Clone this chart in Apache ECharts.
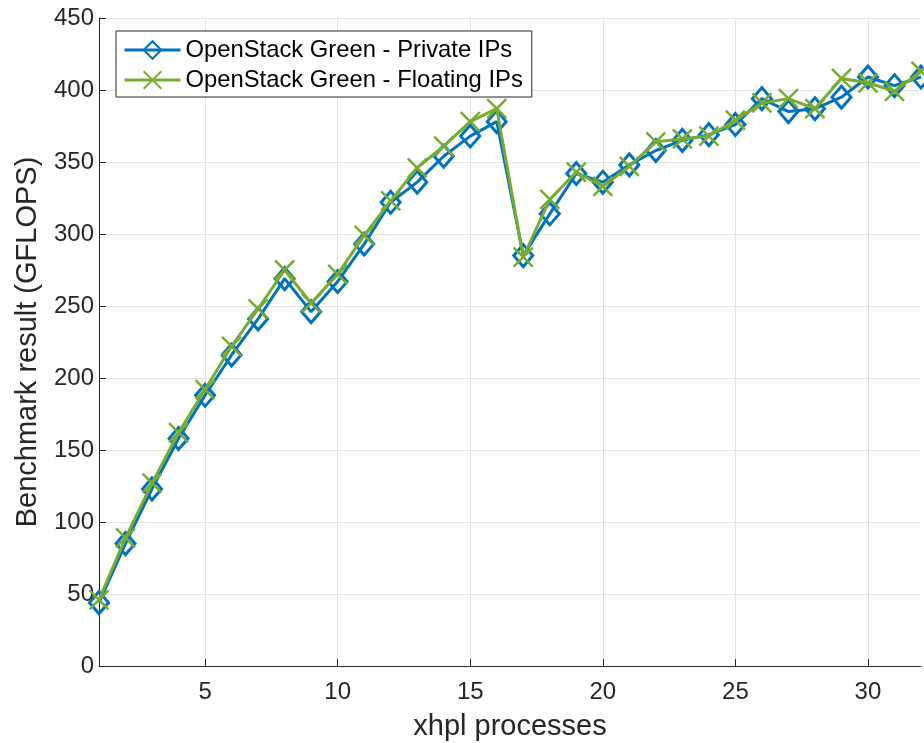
<!DOCTYPE html>
<html>
<head>
<meta charset="utf-8">
<script src="https://cdn.jsdelivr.net/npm/echarts@6/dist/echarts.min.js"></script>
<style>
  html, body { margin: 0; padding: 0; background: #fff; }
  #chart { width: 924px; height: 743px; }
</style>
</head>
<body>
<div id="chart"></div>
<script>
// xhpl process counts 1..32
const processes = [1,2,3,4,5,6,7,8,9,10,11,12,13,14,15,16,17,18,19,20,21,22,23,24,25,26,27,28,29,30,31,32];

// Benchmark results (GFLOPS)
const privateIPs = [44,85,123,158,188,216,241,269,246,267,293,322,336,354,368,378,285,314,342,336,348,358,365,369,376,394,385,387,395,409,403,409];
const floatingIPs = [46,89,127,162,192,222,248,275,252,272,299,323,346,361,378,387,284,324,343,333,347,364,366,368,379,391,394,387,408,405,399,413];

const xTickValues = [5,10,15,20,25,30];
const seriesNames = ['OpenStack Green - Private IPs', 'OpenStack Green - Floating IPs'];

const FONT = 'Liberation Sans, Arial, Helvetica, sans-serif';
const AXIS_COLOR = '#262626';
const GRID_COLOR = '#e3e3e3';
const BLUE = '#0072BD';
const GREEN = '#77AC30';
const X_SYMBOL = 'path://M0,0L10,10M10,0L0,10';

const toPairs = vals => processes.map((p, i) => [p, vals[i]]);

const chart = echarts.init(document.getElementById('chart'), null, { renderer: 'canvas' });
chart.setOption({
  animation: false,
  backgroundColor: '#fff',
  textStyle: { fontFamily: FONT },
  grid: { left: 99, right: 3, top: 18, bottom: 77, containLabel: false, outerBoundsMode: 'none' },
  legend: {
    left: 116, top: 31,
    orient: 'vertical',
    backgroundColor: '#fff',
    borderColor: AXIS_COLOR,
    borderWidth: 1,
    padding: [7, 9, 5, 7],
    itemGap: 6,
    itemWidth: 56,
    itemHeight: 22,
    lineStyle: { width: 3 },
    textStyle: { fontFamily: FONT, fontSize: 23.8, lineHeight: 24, color: '#000' },
    data: seriesNames
  },
  xAxis: {
    type: 'value',
    min: 1, max: 32,
    name: 'xhpl processes',
    nameLocation: 'middle',
    nameGap: 46,
    nameTextStyle: { fontFamily: FONT, fontSize: 29, color: AXIS_COLOR },
    axisLine: { show: true, onZero: false, lineStyle: { color: AXIS_COLOR, width: 1 } },
    axisTick: { show: true, inside: true, length: 7, customValues: xTickValues, lineStyle: { color: AXIS_COLOR } },
    axisLabel: { customValues: xTickValues, fontFamily: FONT, fontSize: 24, color: AXIS_COLOR, margin: 14 },
    splitLine: { show: true, lineStyle: { color: GRID_COLOR, width: 1 } }
  },
  yAxis: {
    type: 'value',
    min: 0, max: 450, interval: 50,
    name: 'Benchmark result (GFLOPS)',
    nameLocation: 'middle',
    nameGap: 57,
    nameTextStyle: { fontFamily: FONT, fontSize: 29, color: AXIS_COLOR },
    axisLine: { show: true, lineStyle: { color: AXIS_COLOR, width: 1 } },
    axisTick: { show: true, inside: true, length: 7, lineStyle: { color: AXIS_COLOR } },
    axisLabel: { fontFamily: FONT, fontSize: 24, color: AXIS_COLOR, margin: 5 },
    splitLine: { show: true, lineStyle: { color: GRID_COLOR, width: 1 } }
  },
  series: [
    {
      name: seriesNames[0],
      type: 'line',
      data: toPairs(privateIPs),
      symbol: 'diamond',
      symbolSize: [19, 22],
      showAllSymbol: true,
      lineStyle: { color: BLUE, width: 3 },
      itemStyle: { color: 'rgba(255,255,255,0)', borderColor: BLUE, borderWidth: 3 },
      z: 2
    },
    {
      name: seriesNames[1],
      type: 'line',
      data: toPairs(floatingIPs),
      symbol: X_SYMBOL,
      symbolSize: 19,
      showAllSymbol: true,
      lineStyle: { color: GREEN, width: 3 },
      itemStyle: { color: 'none', borderColor: GREEN, borderWidth: 2.5 },
      z: 3
    }
  ]
});
</script>
</body>
</html>
